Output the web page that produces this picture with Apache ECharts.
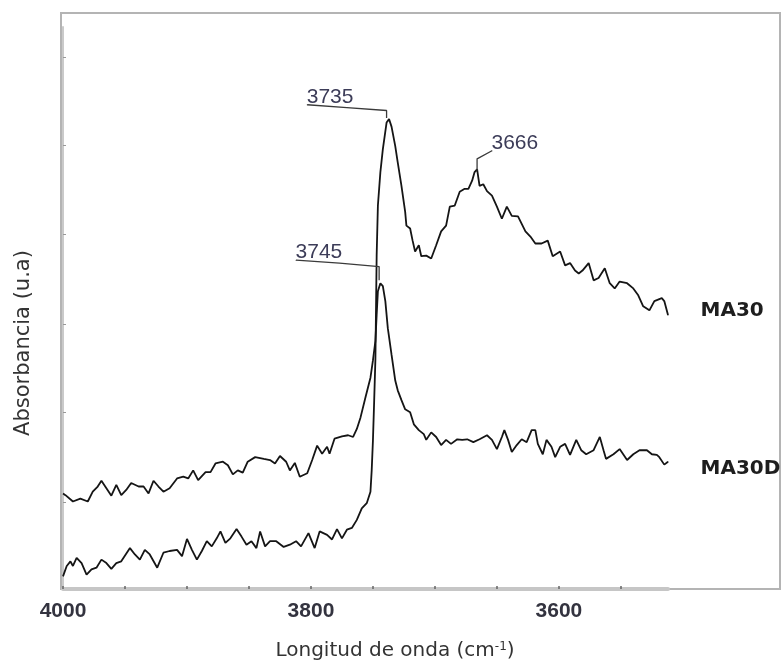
<!DOCTYPE html>
<html><head><meta charset="utf-8">
<script src="https://cdn.jsdelivr.net/npm/echarts@6/dist/echarts.min.js"></script>
<style>html,body{margin:0;padding:0;background:#fff}#c{width:781px;height:666px}</style>
</head><body><div id="c"></div>
<script>
// ---- data (wavenumber cm-1, absorbance a.u.) ----
const ma30Wavenumber = [4000,3997,3994,3992,3989,3985,3981,3977,3973,3969,3965,3961,3957,3953,3946,3942,3938,3934,3930,3924,3919,3914,3908,3904,3900,3896,3892,3888,3884,3880,3876,3873,3869,3865,3860,3856,3852,3848,3844,3841,3837,3833,3828,3822,3817,3812,3808,3802,3797,3793,3787,3783,3779,3775,3771,3767,3763,3759,3755,3752,3751,3750,3749,3748,3747,3746,3744,3742,3739,3737,3735,3732,3730,3727,3724,3723,3720,3718,3716,3713,3711,3707,3703,3699,3695,3691,3688,3684,3680,3676,3673,3670,3668,3666,3664,3661,3658,3654,3650,3646,3642,3638,3633,3627,3623,3619,3614,3609,3605,3599,3595,3591,3587,3584,3581,3576,3572,3568,3563,3559,3555,3551,3545,3540,3536,3532,3527,3523,3517,3515,3512];
const ma30Absorbance = [0.022,0.040,0.048,0.040,0.054,0.045,0.025,0.034,0.037,0.051,0.045,0.035,0.045,0.048,0.071,0.060,0.051,0.068,0.060,0.037,0.063,0.066,0.068,0.057,0.087,0.068,0.051,0.066,0.083,0.074,0.088,0.100,0.080,0.088,0.104,0.091,0.077,0.083,0.071,0.100,0.074,0.083,0.083,0.073,0.077,0.083,0.074,0.097,0.071,0.100,0.094,0.086,0.104,0.088,0.103,0.106,0.120,0.140,0.149,0.169,0.206,0.258,0.327,0.400,0.579,0.666,0.724,0.764,0.810,0.816,0.803,0.769,0.741,0.700,0.655,0.631,0.626,0.605,0.586,0.597,0.578,0.579,0.574,0.597,0.621,0.631,0.664,0.666,0.690,0.695,0.695,0.709,0.724,0.729,0.700,0.703,0.691,0.683,0.664,0.643,0.664,0.648,0.647,0.621,0.612,0.600,0.600,0.605,0.578,0.586,0.562,0.566,0.553,0.548,0.553,0.566,0.536,0.540,0.557,0.531,0.522,0.534,0.531,0.522,0.510,0.491,0.484,0.500,0.505,0.500,0.476];

const ma30dWavenumber = [4000,3998,3992,3986,3980,3976,3972,3969,3965,3961,3957,3953,3949,3945,3939,3935,3931,3927,3923,3919,3914,3908,3903,3899,3895,3891,3885,3881,3877,3871,3867,3863,3859,3855,3851,3845,3838,3833,3829,3825,3820,3817,3813,3809,3803,3799,3795,3791,3787,3785,3781,3775,3770,3766,3763,3760,3756,3752,3750,3748,3747,3746,3744,3742,3740,3738,3735,3732,3730,3727,3724,3720,3717,3713,3709,3707,3703,3699,3695,3691,3687,3682,3678,3674,3669,3664,3658,3654,3650,3646,3644,3641,3638,3634,3630,3626,3622,3619,3617,3613,3610,3606,3603,3599,3595,3591,3586,3582,3578,3572,3567,3564,3562,3556,3551,3545,3540,3535,3529,3525,3521,3519,3515,3512];
const ma30dAbsorbance = [0.166,0.163,0.152,0.157,0.152,0.169,0.178,0.188,0.175,0.162,0.181,0.163,0.172,0.184,0.178,0.178,0.166,0.188,0.178,0.169,0.175,0.192,0.195,0.192,0.206,0.189,0.203,0.203,0.218,0.221,0.215,0.199,0.206,0.202,0.221,0.229,0.226,0.224,0.218,0.231,0.221,0.206,0.219,0.195,0.201,0.224,0.249,0.235,0.247,0.235,0.261,0.265,0.267,0.264,0.278,0.298,0.333,0.367,0.397,0.431,0.476,0.517,0.531,0.526,0.500,0.453,0.407,0.362,0.345,0.328,0.312,0.307,0.286,0.276,0.269,0.259,0.272,0.264,0.250,0.259,0.252,0.260,0.259,0.260,0.255,0.260,0.267,0.259,0.243,0.264,0.276,0.259,0.238,0.250,0.260,0.255,0.276,0.276,0.252,0.234,0.259,0.247,0.229,0.247,0.252,0.233,0.259,0.241,0.234,0.241,0.264,0.241,0.226,0.234,0.243,0.224,0.234,0.241,0.241,0.234,0.233,0.229,0.216,0.221];

// peak annotation leaders (label, wavenumbers, absorbances)
const peakLabels = ['3735', '3745', '3666'];
const leader3735Wn = [3803, 3771, 3739, 3739];
const leader3735Abs = [0.841, 0.836, 0.831, 0.818];
const leader3745Wn = [3812, 3777, 3745, 3745];
const leader3745Abs = [0.571, 0.566, 0.560, 0.536];
const leader3666Wn = [3666, 3666, 3654];
const leader3666Abs = [0.727, 0.747, 0.761];

const seriesNames = ['MA30', 'MA30D'];
const xTickValues = [4000,3950,3900,3850,3800,3750,3700,3650,3600,3550];
const xLabelValues = [4000,3800,3600];
const yTickValues = [0.150,0.307,0.460,0.616,0.771,0.924];

// ---- build ----
const zip = (a, b) => a.slice(0, Math.min(a.length, b.length)).map((v, i) => [v, b[i]]);

function curveData(wn, ab, name, dy) {
  const d = zip(wn, ab).map(p => ({ value: p }));
  const last = d[d.length - 1];
  last.symbol = 'circle';
  last.symbolSize = 1;
  last.label = {
    show: true, formatter: name, position: 'right', distance: 32, offset: [0, dy],
    fontFamily: 'DejaVu Sans', fontWeight: 'bold', fontSize: 20, color: '#1e1e1e'
  };
  return d;
}
function leaderData(wn, ab, text, labelIdx) {
  const d = zip(wn, ab).map(p => ({ value: p }));
  const it = d[labelIdx];
  it.symbol = 'circle';
  it.symbolSize = 1;
  it.label = {
    show: true, formatter: text, position: [0, 0], align: 'left', verticalAlign: 'bottom',
    offset: [0, 3], fontFamily: 'Liberation Sans', fontSize: 21, color: '#3c3c58'
  };
  return d;
}

const curveStyle = { color: '#151515', width: 1.8 };
const leaderStyle = { color: '#3a3a3a', width: 1.3 };

const option = {
  animation: false,
  backgroundColor: '#ffffff',
  grid: { left: 63, right: 113, top: 27, bottom: 73 },
  graphic: [{
    type: 'rect', silent: true, z: -10,
    shape: { x: 61, y: 13, width: 719, height: 576 },
    style: { fill: 'none', stroke: '#b4b4b4', lineWidth: 2 }
  }],
  xAxis: {
    type: 'value', inverse: true, min: 3512, max: 4000,
    axisLine: { show: true, onZero: false, lineStyle: { color: '#c6c6c6', width: 4 } },
    axisTick: { show: true, inside: true, length: 3, customValues: xTickValues, lineStyle: { color: '#666', width: 1.5 } },
    axisLabel: { customValues: xLabelValues, formatter: v => String(v), margin: 12, fontFamily: 'Liberation Sans', fontSize: 21, fontWeight: 'bold', color: '#33333f' },
    splitLine: { show: false },
    name: 'Longitud de onda (cm{sup|-1})', nameLocation: 'middle', nameGap: 52,
    nameTextStyle: {
      fontFamily: 'DejaVu Sans', fontSize: 20, color: '#333', padding: [0, 0, 0, 59],
      rich: { sup: { fontFamily: 'DejaVu Sans', fontSize: 12, color: '#333', verticalAlign: 'top' } }
    }
  },
  yAxis: {
    type: 'value', min: 0, max: 0.976,
    axisLine: { show: true, lineStyle: { color: '#cacaca', width: 2 } },
    axisTick: { show: true, inside: true, length: 3, customValues: yTickValues, lineStyle: { color: '#999' } },
    axisLabel: { show: false },
    splitLine: { show: false },
    name: 'Absorbancia (u.a)', nameLocation: 'middle', nameGap: 29,
    nameTextStyle: { fontFamily: 'DejaVu Sans', fontSize: 21, color: '#333', padding: [0, 70, 0, 0] }
  },
  series: [
    { name: seriesNames[0], type: 'line', symbol: 'none', showSymbol: true, smooth: false,
      lineStyle: curveStyle, itemStyle: { color: '#151515' },
      data: curveData(ma30Wavenumber, ma30Absorbance, seriesNames[0], -4) },
    { name: seriesNames[1], type: 'line', symbol: 'none', showSymbol: true, smooth: false,
      lineStyle: curveStyle, itemStyle: { color: '#151515' },
      data: curveData(ma30dWavenumber, ma30dAbsorbance, seriesNames[1], 7) },
    { name: 'leader-' + peakLabels[0], type: 'line', symbol: 'none', showSymbol: true,
      lineStyle: leaderStyle, itemStyle: { color: '#3a3a3a' },
      data: leaderData(leader3735Wn, leader3735Abs, peakLabels[0], 0) },
    { name: 'leader-' + peakLabels[1], type: 'line', symbol: 'none', showSymbol: true,
      lineStyle: leaderStyle, itemStyle: { color: '#3a3a3a' },
      data: leaderData(leader3745Wn, leader3745Abs, peakLabels[1], 0) },
    { name: 'leader-' + peakLabels[2], type: 'line', symbol: 'none', showSymbol: true,
      lineStyle: leaderStyle, itemStyle: { color: '#3a3a3a' },
      data: leaderData(leader3666Wn, leader3666Abs, peakLabels[2], 2) }
  ]
};

const chart = echarts.init(document.getElementById('c'), null, { renderer: 'canvas' });
chart.setOption(option);
</script>
</body></html>
